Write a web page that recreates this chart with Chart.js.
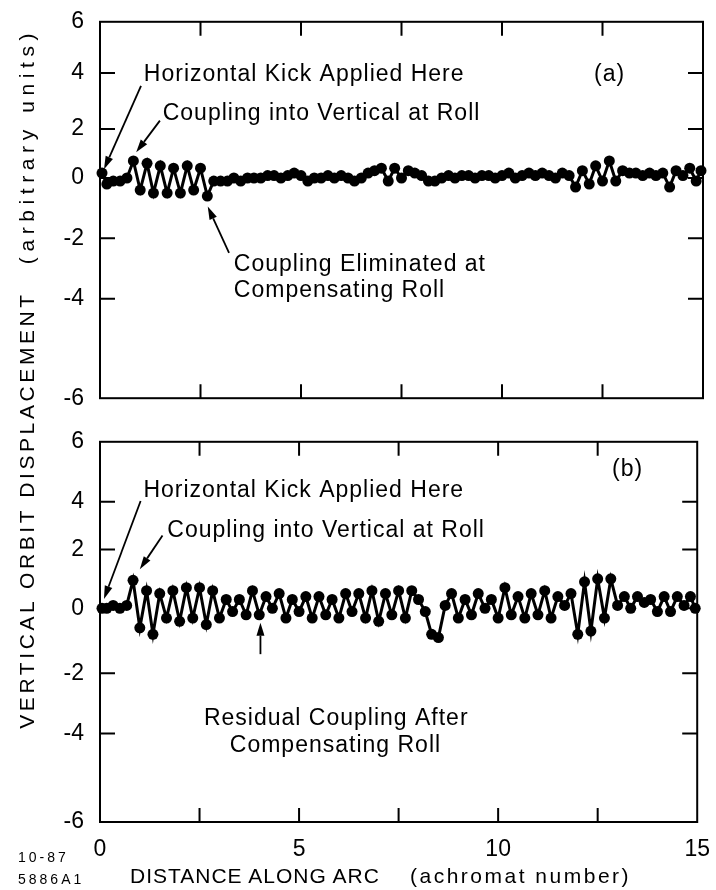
<!DOCTYPE html>
<html>
<head>
<meta charset="utf-8">
<script src="https://cdn.jsdelivr.net/npm/chart.js@4.4.0/dist/chart.umd.min.js"></script>
<style>
body{margin:0;background:#fff;width:716px;height:890px;position:relative;overflow:hidden;font-family:"Liberation Sans",sans-serif;color:#000}
.box{position:absolute;left:0;width:716px}
#wa{top:0;height:420px}
#wb{top:420px;height:470px}
.lbl{position:absolute;white-space:nowrap}
.rot{transform:translate(-50%,-50%) rotate(-90deg);font-size:21px}
</style>
</head>
<body>
<div class="box" id="wa"><canvas id="ca"></canvas></div>
<div class="box" id="wb"><canvas id="cb"></canvas></div>
<div class="lbl rot" style="left:27px;top:510px;letter-spacing:3.6px">VERTICAL ORBIT DISPLACEMENT</div>
<div class="lbl rot" style="left:27px;top:146px;letter-spacing:5.6px">(arbitrary units)</div>
<div class="lbl" style="left:130px;top:864px;font-size:21px;letter-spacing:1px">DISTANCE ALONG ARC</div>
<div class="lbl" style="left:410px;top:864px;font-size:21px;letter-spacing:2.5px">(achromat number)</div>
<div class="lbl" style="left:18px;top:849px;font-size:14px;letter-spacing:3px">10-87</div>
<div class="lbl" style="left:18px;top:871px;font-size:14px;letter-spacing:3px">5886A1</div>
<script>
// position along the arc, achromat number
const arcPos = [
  0.05, 0.17, 0.33, 0.5, 0.67, 0.83,
  1, 1.17, 1.33, 1.5, 1.67, 1.83,
  2, 2.17, 2.33, 2.5, 2.67, 2.83,
  3, 3.17, 3.33, 3.5, 3.67, 3.83,
  4, 4.17, 4.33, 4.5, 4.67, 4.83,
  5, 5.17, 5.33, 5.5, 5.67, 5.83,
  6, 6.17, 6.33, 6.5, 6.67, 6.83,
  7, 7.17, 7.33, 7.5, 7.67, 7.83,
  8, 8.17, 8.33, 8.5, 8.67, 8.83,
  9, 9.17, 9.33, 9.5, 9.67, 9.83,
  10, 10.17, 10.33, 10.5, 10.67, 10.83,
  11, 11.17, 11.33, 11.5, 11.67, 11.83,
  12, 12.17, 12.33, 12.5, 12.67, 12.83,
  13, 13.17, 13.33, 13.5, 13.67, 13.83,
  14, 14.17, 14.33, 14.5, 14.67, 14.83,
  14.95
];
// (a) with compensating roll
const dispA = [
  0.2, -0.2, -0.1, -0.1, 0.0, 0.7,
  -0.4, 0.6, -0.5, 0.5, -0.5, 0.4,
  -0.5, 0.5, -0.4, 0.4, -0.6, -0.1,
  -0.1, -0.1, 0.0, -0.1, 0.0, 0.0,
  0.0, 0.1, 0.1, 0.0, 0.1, 0.2,
  0.1, -0.1, 0.0, 0.0, 0.1, 0.0,
  0.1, 0.0, -0.1, 0.0, 0.2, 0.3,
  0.4, -0.1, 0.4, 0.0, 0.3, 0.2,
  0.1, -0.1, -0.1, 0.0, 0.1, 0.0,
  0.1, 0.1, 0.0, 0.1, 0.1, 0.0,
  0.1, 0.2, 0.0, 0.1, 0.2, 0.1,
  0.2, 0.1, 0.0, 0.2, 0.1, -0.3,
  0.3, -0.2, 0.5, -0.1, 0.7, -0.1,
  0.3, 0.2, 0.2, 0.1, 0.2, 0.1,
  0.2, -0.3, 0.3, 0.1, 0.4, -0.1,
  0.3
];
// (b) residual coupling
const dispB = [
  0.0, 0.0, 0.1, 0.0, 0.1, 0.95,
  -0.6, 0.6, -0.8, 0.5, -0.3, 0.6,
  -0.4, 0.7, -0.3, 0.7, -0.5, 0.6,
  -0.3, 0.3, -0.1, 0.3, -0.2, 0.6,
  -0.2, 0.4, 0.0, 0.5, -0.3, 0.3,
  -0.1, 0.4, -0.3, 0.4, -0.2, 0.3,
  -0.3, 0.5, -0.1, 0.5, -0.3, 0.6,
  -0.4, 0.5, -0.2, 0.6, -0.3, 0.6,
  0.3, -0.1, -0.8, -0.9, 0.1, 0.5,
  -0.3, 0.3, -0.2, 0.5, 0.0, 0.3,
  -0.3, 0.7, -0.2, 0.4, -0.3, 0.5,
  -0.2, 0.6, -0.3, 0.4, 0.1, 0.5,
  -0.8, 0.9, -0.7, 1.0, -0.3, 1.0,
  0.1, 0.4, 0.0, 0.4, 0.2, 0.3,
  -0.1, 0.4, -0.1, 0.4, 0.1, 0.4,
  0.0
];
const yTicks = [6, 4, 2, 0, -2, -4, -6];
// the scanned axes are not evenly spaced, so where each y tick sits (0 = top, 1 = bottom)
const warpA = [0, 0.136, 0.285, 0.415, 0.575, 0.736, 1];
const warpB = [0, 0.158, 0.283, 0.438, 0.609, 0.767, 1];

const notesA = [
  {x: 1.09, y: 3.95, text: 'Horizontal Kick Applied Here'},
  {x: 12.29, y: 3.95, text: '(a)'},
  {x: 1.56, y: 2.54, text: 'Coupling into Vertical at Roll'},
  {x: 3.33, y: -2.86, text: 'Coupling Eliminated at'},
  {x: 3.33, y: -3.73, text: 'Compensating Roll'}
];
const arrowsA = [
  {from: [1.02, 3.54], to: [0.1, 0.36]},
  {from: [1.49, 2.3], to: [0.9, 1.05]},
  {from: [3.21, -2.48], to: [2.68, -0.95]}
];
const notesB = [
  {x: 1.09, y: 4.39, text: 'Horizontal Kick Applied Here'},
  {x: 12.86, y: 5.08, text: '(b)'},
  {x: 1.69, y: 2.79, text: 'Coupling into Vertical at Roll'},
  {x: 2.61, y: -3.5, text: 'Residual Coupling After'},
  {x: 3.26, y: -4.28, text: 'Compensating Roll'}
];
const arrowsB = [
  {from: [1.02, 4.03], to: [0.1, 0.32]},
  {from: [1.57, 2.58], to: [1.0, 1.33]},
  {from: [4.03, -1.41], to: [4.03, -0.44]}
];

class WarpScale extends Chart.LinearScale {
  static id = 'warp';
  static defaults = Chart.LinearScale.defaults;
  getPixelForValue(v) {
    const w = this.options.warp;
    let f = 0;
    if (v >= yTicks[0]) f = w[0];
    else if (v <= yTicks[yTicks.length - 1]) f = w[w.length - 1];
    else {
      for (let i = 0; i < yTicks.length - 1; i++) {
        if (v <= yTicks[i] && v >= yTicks[i + 1]) {
          f = w[i] + (yTicks[i] - v) / (yTicks[i] - yTicks[i + 1]) * (w[i + 1] - w[i]);
          break;
        }
      }
    }
    return this.top + f * (this.bottom - this.top);
  }
  getValueForPixel(p) {
    const w = this.options.warp;
    const f = (p - this.top) / (this.bottom - this.top);
    for (let i = 0; i < w.length - 1; i++) {
      if (f >= w[i] && f <= w[i + 1]) {
        return yTicks[i] - (f - w[i]) / (w[i + 1] - w[i]) * (yTicks[i] - yTicks[i + 1]);
      }
    }
    return f < 0 ? yTicks[0] : yTicks[yTicks.length - 1];
  }
}
Chart.register(WarpScale);

const framePlugin = {
  id: 'frame',
  afterDraw(chart) {
    const {ctx, chartArea: a, scales} = chart;
    ctx.save();
    ctx.strokeStyle = '#000';
    ctx.lineWidth = 2;
    ctx.strokeRect(a.left, a.top, a.right - a.left, a.bottom - a.top);
    ctx.beginPath();
    scales.y.ticks.forEach((t, i) => {
      if (t.value <= scales.y.min || t.value >= scales.y.max) return;
      const py = scales.y.getPixelForTick(i);
      ctx.moveTo(a.left, py); ctx.lineTo(a.left + 15, py);
      ctx.moveTo(a.right - 15, py); ctx.lineTo(a.right, py);
    });
    scales.x.ticks.forEach((t, i) => {
      if (t.value <= scales.x.min || t.value >= scales.x.max) return;
      const px = scales.x.getPixelForTick(i);
      ctx.moveTo(px, a.top); ctx.lineTo(px, a.top + 14);
      ctx.moveTo(px, a.bottom - 14); ctx.lineTo(px, a.bottom);
    });
    ctx.stroke();
    ctx.restore();
  }
};

function notesPlugin(texts, arrows) {
  return {
    id: 'notes',
    afterDatasetsDraw(chart) {
      const {ctx, scales: {x, y}} = chart;
      ctx.save();
      ctx.fillStyle = '#000';
      ctx.strokeStyle = '#000';
      ctx.font = '23px "Liberation Sans"';
      ctx.letterSpacing = '1px';
      ctx.textBaseline = 'middle';
      ctx.textAlign = 'left';
      texts.forEach(t => ctx.fillText(t.text, x.getPixelForValue(t.x), y.getPixelForValue(t.y)));
      ctx.lineWidth = 1.8;
      arrows.forEach(ar => {
        const x0 = x.getPixelForValue(ar.from[0]), y0 = y.getPixelForValue(ar.from[1]);
        const x1 = x.getPixelForValue(ar.to[0]), y1 = y.getPixelForValue(ar.to[1]);
        const len = Math.hypot(x1 - x0, y1 - y0);
        const ux = (x1 - x0) / len, uy = (y1 - y0) / len;
        const bx = x1 - ux * 13, by = y1 - uy * 13;
        ctx.beginPath();
        ctx.moveTo(x0, y0); ctx.lineTo(bx, by);
        ctx.stroke();
        ctx.beginPath();
        ctx.moveTo(x1, y1);
        ctx.lineTo(bx - uy * 4, by + ux * 4);
        ctx.lineTo(bx + uy * 4, by - ux * 4);
        ctx.closePath();
        ctx.fill();
      });
      ctx.restore();
    }
  };
}

function makeChart(id, values, warp, padTop, xHeight, showX, texts, arrows) {
  return new Chart(document.getElementById(id), {
    type: 'line',
    data: {
      labels: arcPos,
      datasets: [{
        data: values,
        borderColor: '#000',
        backgroundColor: '#000',
        borderWidth: 3,
        pointRadius: 5.5,
        pointBorderWidth: 0,
        tension: 0,
        clip: false
      }]
    },
    options: {
      responsive: true,
      maintainAspectRatio: false,
      animation: false,
      events: [],
      layout: {padding: {top: padTop, right: 13, left: 0, bottom: 0}},
      plugins: {legend: {display: false}, tooltip: {enabled: false}},
      scales: {
        x: {
          type: 'linear', min: 0, max: 15,
          grid: {display: false},
          border: {display: false},
          ticks: {
            display: showX, stepSize: 2.5, autoSkip: false, maxRotation: 0, padding: 6,
            color: '#000', font: {family: 'Liberation Sans', size: 23},
            callback: v => (v % 5 === 0 ? v : '')
          },
          afterFit: s => { s.height = xHeight; }
        },
        y: {
          type: 'warp', min: -6, max: 6, warp: warp,
          grid: {display: false},
          border: {display: false},
          ticks: {stepSize: 2, padding: 8, color: '#000', font: {family: 'Liberation Sans', size: 23}},
          afterFit: s => { s.width = 100; }
        }
      }
    },
    plugins: [framePlugin, notesPlugin(texts, arrows)]
  });
}

makeChart('ca', dispA, warpA, 20, 12, false, notesA, arrowsA);
makeChart('cb', dispB, warpB, 17, 68, true, notesB, arrowsB);
</script>
</body>
</html>
